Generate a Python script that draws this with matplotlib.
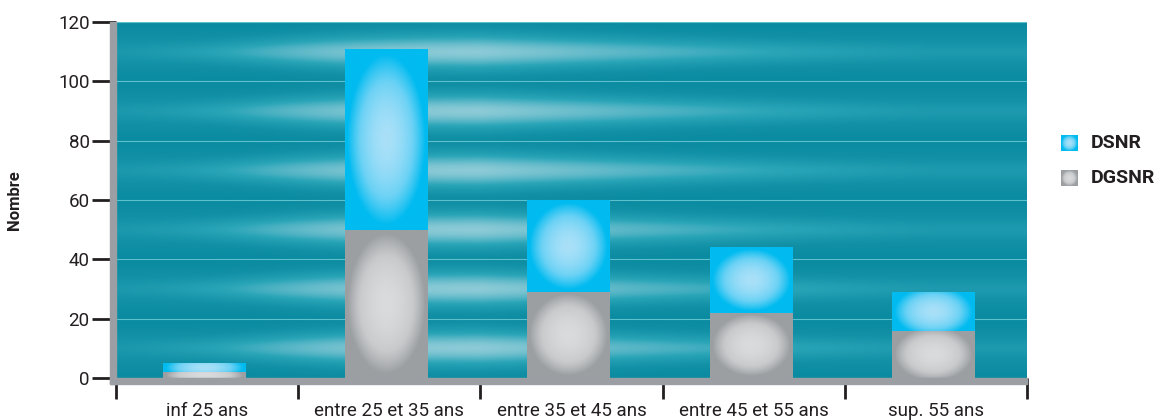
import numpy as np
import matplotlib
matplotlib.use("Agg")
import matplotlib.pyplot as plt
from matplotlib.patches import Rectangle
from matplotlib.colors import LinearSegmentedColormap

plt.rcParams['font.family'] = ['Roboto', 'DejaVu Sans']

# data
categories = ["inf 25 ans", "entre 25 et 35 ans", "entre 35 et 45 ans",
              "entre 45 et 55 ans", "sup. 55 ans"]
dgsnr = [2, 50, 29, 22, 16]
dsnr = [3, 61, 31, 22, 13]
yticks = [0, 20, 40, 60, 80, 100, 120]

W, H = 1160, 420
fig = plt.figure(figsize=(W / 100, H / 100), dpi=100)
x0, x1, y0, y1 = 116, 1027, 378, 22
ax = fig.add_axes([x0 / W, 1 - y0 / H, (x1 - x0) / W, (y0 - y1) / H])
ax.set_xlim(-0.5, 4.5)
ax.set_ylim(0, 120)

# background: teal with soft light streaks between gridlines
nx, ny = 600, 480
xs = np.linspace(0, 1, nx)
ys = np.linspace(0, 120, ny)
X, Y = np.meshgrid(xs, ys)
left = 1 / (1 + np.exp(-(X - 0.15) / 0.06))
right = np.clip(1.0 - np.maximum(X - 0.4, 0) / 0.5, 0, 1) ** 1.2
env = left * (0.12 + 0.88 * right)
d = (Y % 20) - 10
sig = 1.8 + 4.2 * env
band = np.exp(-(d / sig) ** 2)
soft = np.exp(-(d / 6.5) ** 2)
t = np.clip(band * env * 0.8 + soft * 0.2, 0, 1)
bgmap = LinearSegmentedColormap.from_list("bg", ["#0a8aa0", "#2aa5b8", "#8ecbd7"])
ax.imshow(t, cmap=bgmap, vmin=0, vmax=1, extent=(-0.5, 4.5, 0, 120),
          origin="lower", aspect="auto", zorder=0, interpolation="bilinear")

for yt in yticks[1:]:
    ax.axhline(yt, color="#5cc0cd", lw=0.8, zorder=1)

bluemap = LinearSegmentedColormap.from_list("b", ["#a9e0f8", "#6cd2f5", "#00bbf0"])
graymap = LinearSegmentedColormap.from_list("g", ["#d9dbdd", "#c8cacc", "#9c9fa2"])


def radial(h_ratio=1.0):
    g = np.linspace(-1, 1, 80)
    gx, gy = np.meshgrid(g, g)
    r = np.sqrt((gx * 1.05) ** 2 + (gy * h_ratio) ** 2)
    return np.clip(r, 0, 1) ** 1.8


width = 0.455
shift = -0.015
for i in range(len(categories)):
    xc = i + shift
    for val, bot, cm in [(dgsnr[i], 0, graymap), (dsnr[i], dgsnr[i], bluemap)]:
        rect = Rectangle((xc - width / 2, bot), width, val, facecolor="none",
                         edgecolor="none", zorder=3)
        ax.add_patch(rect)
        im = ax.imshow(radial(min(1.05, 1.1 * val / 30 + 0.3)), cmap=cm, vmin=0, vmax=1,
                       extent=(xc - width / 2, xc + width / 2, bot, bot + val),
                       aspect="auto", zorder=3, interpolation="bilinear")
        im.set_clip_path(rect)

for s in ax.spines.values():
    s.set_visible(False)

# gray walls
fig.add_artist(Rectangle((110 / W, 1 - 384 / H), 6 / W, (384 - 22) / H,
                         transform=fig.transFigure, color="#9b9fa3", zorder=5))
fig.add_artist(Rectangle((110 / W, 1 - 384 / H), (1027 - 110) / W, 6 / H,
                         transform=fig.transFigure, color="#9b9fa3", zorder=5))

ax.set_yticks(yticks)
ax.tick_params(axis="y", length=17, width=2, color="#231f20", labelsize=13.5,
               labelcolor="#231f20", pad=2)
ax.set_xticks(range(len(categories)))
ax.set_xticklabels(categories)
ax.set_xticks(np.arange(-0.5, 4.6, 1), minor=True)
ax.tick_params(axis="x", which="major", length=0, labelsize=13.5,
               labelcolor="#231f20", pad=17)
ax.tick_params(axis="x", which="minor", length=15, width=2, color="#231f20")
ax.set_ylabel("Nombre", fontsize=12, fontweight="bold", color="#231f20", labelpad=26)

# legend
for k, (name, cm) in enumerate([("DSNR", bluemap), ("DGSNR", graymap)]):
    yc = 143 + 35 * k
    lax = fig.add_axes([1061 / W, 1 - (yc + 8) / H, 17 / W, 16 / H])
    lax.imshow(radial(), cmap=cm, vmin=0, vmax=1, aspect="auto", interpolation="bilinear")
    lax.axis("off")
    fig.text(1091 / W, 1 - yc / H, name, fontsize=14, fontweight="bold",
             color="#231f20", va="center", ha="left")

fig.savefig("out.png", dpi=100)
